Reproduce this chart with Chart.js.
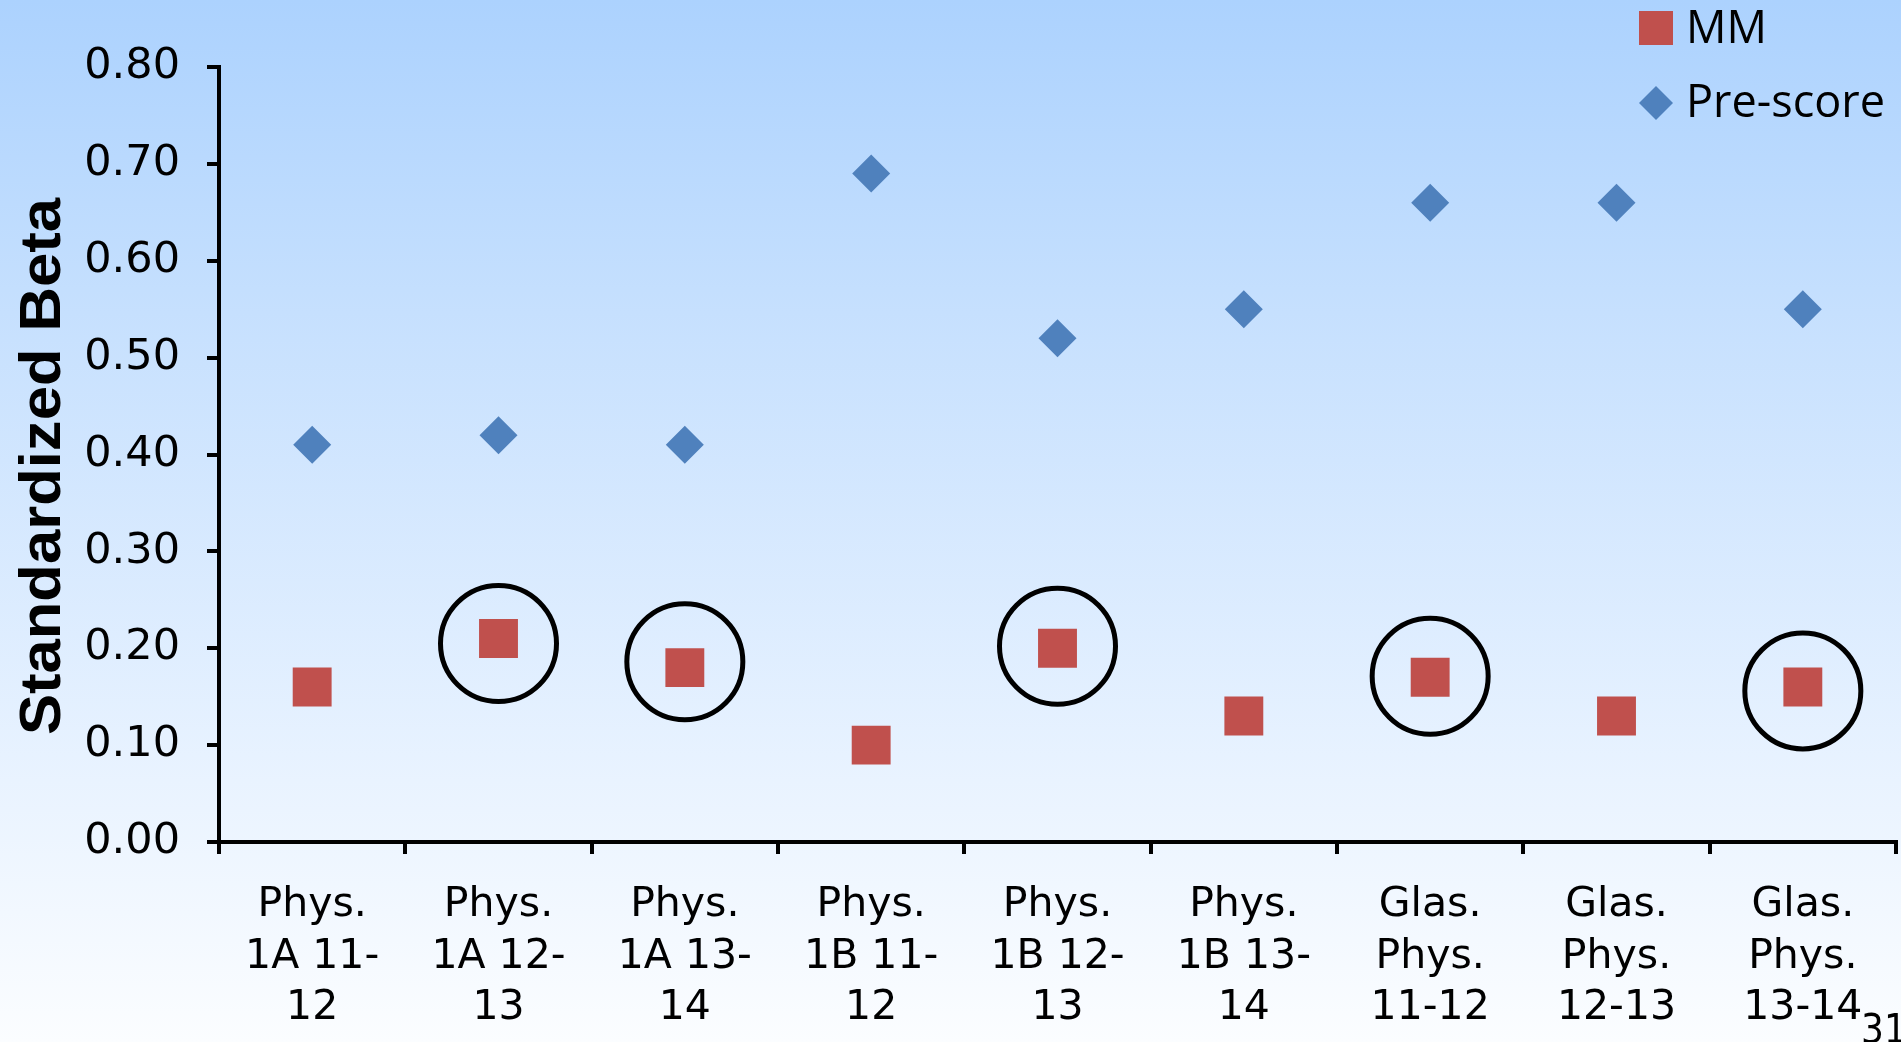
<!DOCTYPE html>
<html>
<head>
<meta charset="utf-8">
<title>Standardized Beta</title>
<script src="https://cdn.jsdelivr.net/npm/chart.js@4.4.1/dist/chart.umd.min.js"></script>
<style>
  html, body {
    margin: 0;
    padding: 0;
    width: 1901px;
    height: 1042px;
    overflow: hidden;
    background: linear-gradient(to bottom, #acd2fe 0%, #c6e0fe 30%, #e9f3ff 75%, #fbfdff 100%);
  }
  canvas { position: absolute; left: 0; top: 0; }
</style>
</head>
<body>
<canvas id="chart" width="1901" height="1042"></canvas>
<script>
// Course / year categories (multi-line axis labels)
const categories = [
  ["Phys.", "1A 11-", "12"],
  ["Phys.", "1A 12-", "13"],
  ["Phys.", "1A 13-", "14"],
  ["Phys.", "1B 11-", "12"],
  ["Phys.", "1B 12-", "13"],
  ["Phys.", "1B 13-", "14"],
  ["Glas.", "Phys.", "11-12"],
  ["Glas.", "Phys.", "12-13"],
  ["Glas.", "Phys.", "13-14"]
];

// Standardized beta coefficients
const mmBeta       = [0.16, 0.21, 0.18, 0.10, 0.20, 0.13, 0.17, 0.13, 0.16];
const preScoreBeta = [0.41, 0.42, 0.41, 0.69, 0.52, 0.55, 0.66, 0.66, 0.55];

// Highlight rings around the notable MM coefficients
const circledBeta  = [null, 0.205, 0.186, null, 0.202, null, 0.171, null, 0.156];

// Value axis
const yMin = 0;
const yMax = 0.8;
const yStep = 0.1;

const seriesNames = ["MM", "Pre-score"];
const axisTitle = "Standardized Beta";
const slideNumber = "31";

const MM_COLOR = "#C0504D";
const PRE_COLOR = "#4F81BD";

// Axis title, legend and slide number drawn on top of the chart
const overlay = {
  id: "overlay",
  afterDraw(chart) {
    const ctx = chart.ctx;
    const ys = chart.scales.y;

    // vertical axis title
    ctx.save();
    ctx.translate(60, (ys.top + ys.bottom) / 2 + 12);
    ctx.rotate(-Math.PI / 2);
    ctx.scale(1.08, 1);
    ctx.font = 'bold 57px "Liberation Sans", Arial, sans-serif';
    ctx.fillStyle = "#000";
    ctx.textAlign = "center";
    ctx.textBaseline = "alphabetic";
    ctx.fillText(axisTitle, 0, 0);
    ctx.restore();

    // legend
    ctx.save();
    ctx.font = '45px "Open Sans", sans-serif';
    ctx.textAlign = "left";
    ctx.textBaseline = "alphabetic";
    ctx.fillStyle = MM_COLOR;
    ctx.fillRect(1639, 11, 34, 34);
    ctx.fillStyle = "#000";
    ctx.fillText(seriesNames[0], 1686, 43);

    ctx.fillStyle = PRE_COLOR;
    ctx.beginPath();
    ctx.moveTo(1656, 86);
    ctx.lineTo(1673, 103);
    ctx.lineTo(1656, 120);
    ctx.lineTo(1639, 103);
    ctx.closePath();
    ctx.fill();
    ctx.fillStyle = "#000";
    ctx.fillText(seriesNames[1], 1686, 117);
    ctx.restore();

    // slide number
    ctx.save();
    ctx.font = '40px "Liberation Sans Narrow", "DejaVu Sans Condensed", sans-serif';
    ctx.fillStyle = "#000";
    ctx.textAlign = "left";
    ctx.textBaseline = "alphabetic";
    ctx.fillText(slideNumber, 1861, 1043);
    ctx.restore();
  }
};

new Chart(document.getElementById("chart"), {
  type: "line",
  data: {
    labels: categories,
    datasets: [
      {
        label: seriesNames[0],
        data: mmBeta,
        showLine: false,
        pointStyle: "rect",
        pointRadius: 27.5,
        pointHoverRadius: 27.5,
        pointBackgroundColor: MM_COLOR,
        pointBorderColor: MM_COLOR,
        pointBorderWidth: 0,
        clip: false
      },
      {
        label: seriesNames[1],
        data: preScoreBeta,
        showLine: false,
        pointStyle: "rectRot",
        pointRadius: 19,
        pointHoverRadius: 19,
        pointBackgroundColor: PRE_COLOR,
        pointBorderColor: PRE_COLOR,
        pointBorderWidth: 0,
        clip: false
      },
      {
        label: "highlight",
        data: circledBeta,
        showLine: false,
        pointStyle: "circle",
        pointRadius: 58,
        pointHoverRadius: 58,
        pointBackgroundColor: "rgba(0,0,0,0)",
        pointBorderColor: "#000",
        pointBorderWidth: 5,
        clip: false
      }
    ]
  },
  options: {
    responsive: false,
    animation: false,
    events: [],
    layout: { autoPadding: false, padding: { top: 67, right: 5, left: 0, bottom: 0 } },
    plugins: {
      legend: { display: false },
      tooltip: { enabled: false },
      title: { display: false }
    },
    scales: {
      x: {
        type: "category",
        offset: true,
        grid: {
          offset: true,
          drawOnChartArea: false,
          drawTicks: true,
          tickLength: 12,
          lineWidth: 4,
          color: "#000"
        },
        border: { display: true, width: 4, color: "#000" },
        ticks: {
          autoSkip: false,
          maxRotation: 0,
          minRotation: 0,
          padding: 26,
          color: "#000",
          font: { family: '"DejaVu Sans", Verdana, sans-serif', size: 41, lineHeight: 1.25 }
        },
        afterFit(scale) {
          scale.height = 200;
          scale.paddingLeft = 0;
          scale.paddingRight = 0;
        }
      },
      y: {
        min: yMin,
        max: yMax,
        grid: {
          drawOnChartArea: false,
          drawTicks: true,
          tickLength: 12,
          lineWidth: 4,
          color: "#000"
        },
        border: { display: true, width: 4, color: "#000" },
        ticks: {
          stepSize: yStep,
          padding: 27,
          color: "#000",
          font: { family: '"DejaVu Sans", Verdana, sans-serif', size: 43 },
          callback: (v) => Number(v).toFixed(2)
        },
        afterFit(scale) {
          scale.width = 219;
          scale.paddingTop = 0;
          scale.paddingBottom = 0;
        }
      }
    }
  },
  plugins: [overlay]
});
</script>
</body>
</html>
